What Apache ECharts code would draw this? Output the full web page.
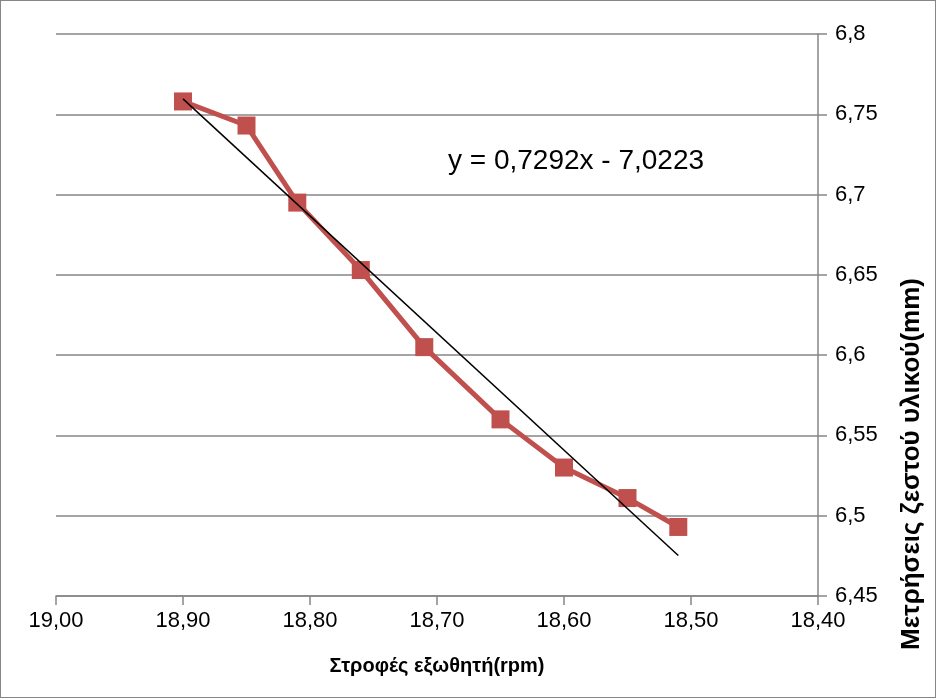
<!DOCTYPE html>
<html><head><meta charset="utf-8">
<script src="https://cdn.jsdelivr.net/npm/echarts@6/dist/echarts.min.js"></script>
<style>
html,body{margin:0;padding:0;background:#fff;}
#c{width:934px;height:696px;border:1px solid #868686;}
</style></head>
<body><div id="c"></div>
<script>
const rpm = [18.90, 18.85, 18.81, 18.76, 18.71, 18.65, 18.60, 18.55, 18.51];
const thickness = [6.758, 6.743, 6.695, 6.653, 6.605, 6.560, 6.530, 6.511, 6.493];
const trendX = [18.90, 18.51];
const trendY = [6.7596, 6.4752];
const xTitle = 'Στροφές εξωθητή(rpm)';
const yTitle = 'Μετρήσεις ζεστού υλικού(mm)';
const equation = 'y = 0,7292x - 7,0223';

const FONT = '"Liberation Sans", Arial, sans-serif';
const chart = echarts.init(document.getElementById('c'));
chart.setOption({
  animation: false,
  grid: {left: 55, right: 117, top: 33, bottom: 101},
  xAxis: {
    type: 'value', inverse: true, min: 18.4, max: 19.0, interval: 0.1,
    name: xTitle, nameLocation: 'middle', nameGap: 60,
    nameTextStyle: {fontFamily: FONT, fontWeight: 'bold', fontSize: 20, color: '#000'},
    axisLine: {show: true, lineStyle: {color: '#868686', width: 1.5}},
    axisTick: {show: true, length: 9, lineStyle: {color: '#868686', width: 1.5}},
    splitLine: {show: false},
    axisLabel: {fontFamily: FONT, fontSize: 22, color: '#000', margin: 14,
      formatter: v => v.toFixed(2).replace('.', ',')}
  },
  yAxis: {
    type: 'value', position: 'right', min: 6.45, max: 6.8, interval: 0.05,
    axisLine: {show: true, lineStyle: {color: '#868686', width: 1.5}},
    axisTick: {show: true, length: 9, lineStyle: {color: '#868686', width: 1.5}},
    splitLine: {show: true, lineStyle: {color: '#868686', width: 1.5}},
    axisLabel: {fontFamily: FONT, fontSize: 22, color: '#000', margin: 17,
      formatter: v => String(parseFloat(v.toFixed(2))).replace('.', ',')}
  },
  series: [
    {type: 'line', data: rpm.map((x, i) => [x, thickness[i]]),
     symbol: 'rect', symbolSize: 18, showSymbol: true,
     lineStyle: {color: '#C0504D', width: 5},
     itemStyle: {color: '#C0504D'}, z: 2},
    {type: 'line', data: trendX.map((x, i) => [x, trendY[i]]),
     showSymbol: false, symbol: 'none',
     lineStyle: {color: '#000', width: 1.5}, z: 3}
  ],
  graphic: [
    {type: 'text', left: 447, top: 146,
     style: {text: equation, fontFamily: FONT, fontSize: 28, fill: '#000'}},
    {type: 'text', x: 911, y: 463, rotation: Math.PI / 2,
     style: {text: yTitle, fontFamily: FONT, fontSize: 26, fontWeight: 'bold', fill: '#000',
       align: 'center', verticalAlign: 'middle'}}
  ]
});
</script></body></html>
